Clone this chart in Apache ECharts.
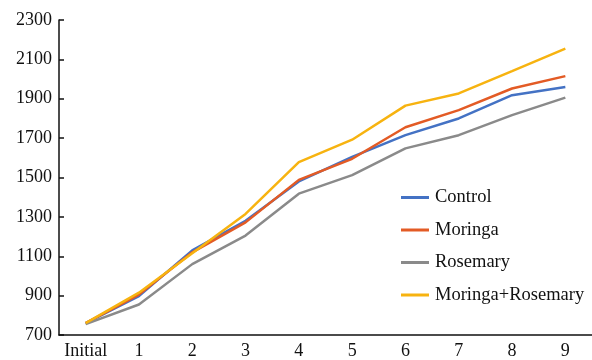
<!DOCTYPE html>
<html><head><meta charset="utf-8">
<script src="https://cdn.jsdelivr.net/npm/echarts@6/dist/echarts.min.js"></script>
<style>html,body{margin:0;padding:0;background:#fff}#c{width:592px;height:360px}</style>
</head><body><div id="c"></div>
<script>
const categories = ['Initial','1','2','3','4','5','6','7','8','9'];
const control = [760, 898, 1130, 1280, 1480, 1605, 1715, 1800, 1918, 1960];
const moringa = [760, 905, 1120, 1272, 1488, 1595, 1755, 1842, 1952, 2015];
const rosemary = [755, 855, 1060, 1205, 1418, 1512, 1648, 1715, 1817, 1906];
const moringaRosemary = [760, 915, 1115, 1315, 1578, 1692, 1865, 1927, 2040, 2155];
const yTicks = {min: 700, max: 2300, interval: 200};

const font = '"Liberation Serif", "Times New Roman", serif';
const mk = (name, data, color) => ({
  name, type: 'line', data, symbol: 'none', smooth: false,
  lineStyle: {color, width: 2.5}, itemStyle: {color}
});
const chart = echarts.init(document.getElementById('c'));
chart.setOption({
  animation: false,
  grid: {left: 59, top: 20, bottom: 25, width: 544},
  xAxis: {
    type: 'category', data: categories, boundaryGap: true,
    axisLine: {lineStyle: {color: '#111', width: 1.5}},
    axisTick: {inside: true, length: 5, interval: 0, alignWithLabel: true, lineStyle: {color: '#111', width: 1.5}},
    axisLabel: {color: '#111', fontFamily: font, fontSize: 18, margin: 7, interval: 0, hideOverlap: false}
  },
  yAxis: {
    type: 'value', min: yTicks.min, max: yTicks.max, interval: yTicks.interval,
    axisLine: {show: true, lineStyle: {color: '#111', width: 1.5}},
    axisTick: {show: true, inside: true, length: 5, lineStyle: {color: '#111', width: 1.5}},
    splitLine: {show: false},
    axisLabel: {color: '#111', fontFamily: font, fontSize: 18, margin: 7, formatter: v => String(v)}
  },
  legend: {
    orient: 'vertical', left: 401, top: 188, itemWidth: 28, itemHeight: 3, itemGap: 13.5, padding: 0,
    icon: 'rect',
    textStyle: {fontFamily: font, fontSize: 18.5, color: '#111', padding: [0,0,0,1]},
    data: ['Control','Moringa','Rosemary','Moringa+Rosemary']
  },
  series: [
    mk('Control', control, '#4472C4'),
    mk('Moringa', moringa, '#E35B25'),
    mk('Rosemary', rosemary, '#8A8A8A'),
    mk('Moringa+Rosemary', moringaRosemary, '#F7B310')
  ]
});
</script></body></html>
